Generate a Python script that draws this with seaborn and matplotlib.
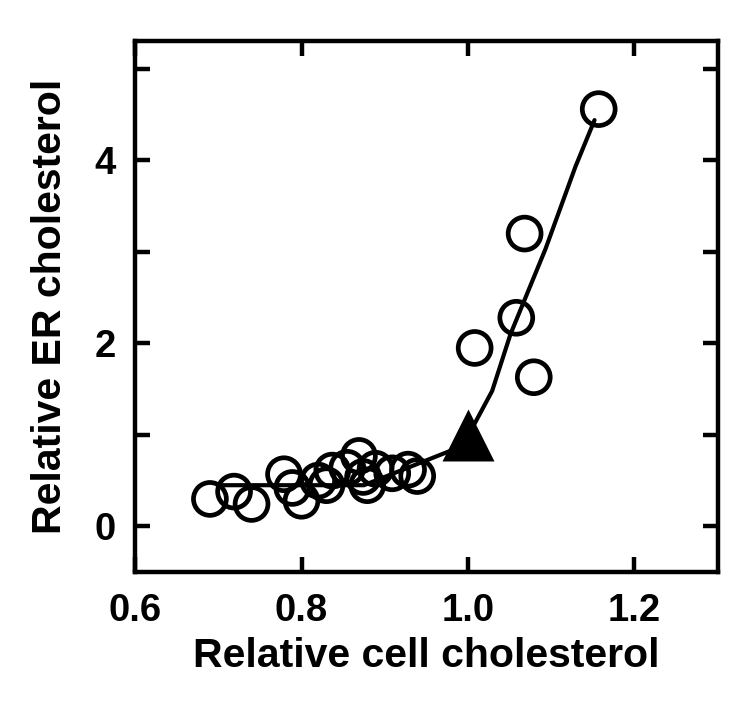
import pandas as pd
import matplotlib
matplotlib.use("Agg")
import matplotlib.pyplot as plt
import seaborn as sns

# measured points (open circles)
cell_chol = [0.69, 0.719, 0.74, 0.779, 0.789, 0.80, 0.82, 0.83, 0.837, 0.855,
             0.869, 0.874, 0.879, 0.889, 0.909, 0.928, 0.939,
             1.008, 1.058, 1.068, 1.079, 1.157]
er_chol = [0.30, 0.38, 0.245, 0.57, 0.42, 0.28, 0.50, 0.45, 0.61, 0.64,
           0.77, 0.54, 0.45, 0.63, 0.58, 0.62, 0.55,
           1.95, 2.28, 3.20, 1.63, 4.56]

# reference point (filled triangle)
ref_x = [1.0]
ref_y = [1.0]

# fitted curve
fit_x = [0.705, 0.875, 0.98, 1.006, 1.029, 1.051, 1.093, 1.129, 1.152]
fit_y = [0.45, 0.45, 0.83, 1.09, 1.48, 2.10, 3.03, 3.93, 4.44]

pts = pd.DataFrame({"x": cell_chol, "y": er_chol})
fit = pd.DataFrame({"x": fit_x, "y": fit_y})
ref = pd.DataFrame({"x": ref_x, "y": ref_y})

sns.set_style("ticks")
plt.rcParams["font.family"] = ["Liberation Sans", "DejaVu Sans"]
plt.rcParams["font.weight"] = "bold"
plt.rcParams["text.color"] = "black"
plt.rcParams["axes.labelcolor"] = "black"
plt.rcParams["xtick.color"] = "black"
plt.rcParams["ytick.color"] = "black"
plt.rcParams["axes.edgecolor"] = "black"

fig = plt.figure(figsize=(7.5, 7.02), dpi=100)
ax = fig.add_axes([0.18, 0.185, 0.777, 0.756])

sns.lineplot(data=fit, x="x", y="y", sort=False, color="black",
             linewidth=3.0, ax=ax)
sns.scatterplot(data=pts, x="x", y="y", s=560, facecolor="none",
                edgecolor="black", linewidth=3.4, ax=ax, zorder=3)
sns.scatterplot(data=ref, x="x", y="y", marker="^", s=1400, color="black",
                edgecolor="black", linewidth=0, ax=ax, zorder=4)

ax.set_xlim(0.6, 1.3)
ax.set_ylim(-0.5, 5.3)
ax.set_xticks([0.6, 0.8, 1.0, 1.2])
ax.set_xticklabels(["0.6", "0.8", "1.0", "1.2"])
ax.set_yticks([0, 1, 2, 3, 4, 5])
ax.set_yticklabels(["0", "", "2", "", "4", ""])

for s in ax.spines.values():
    s.set_visible(True)
    s.set_linewidth(3.2)
    s.set_color("black")
ax.tick_params(direction="in", length=11, width=3.2, top=True, right=True,
               labelsize=27.5, colors="black")
ax.tick_params(axis="x", pad=15)
ax.tick_params(axis="y", pad=14)
for t in ax.get_xticklabels() + ax.get_yticklabels():
    t.set_fontweight("bold")

ax.set_xlabel("Relative cell cholesterol", fontsize=29.5, fontweight="bold", labelpad=6)
ax.set_ylabel("Relative ER cholesterol", fontsize=29.5, fontweight="bold", labelpad=18)

fig.savefig("out.png", dpi=100)
